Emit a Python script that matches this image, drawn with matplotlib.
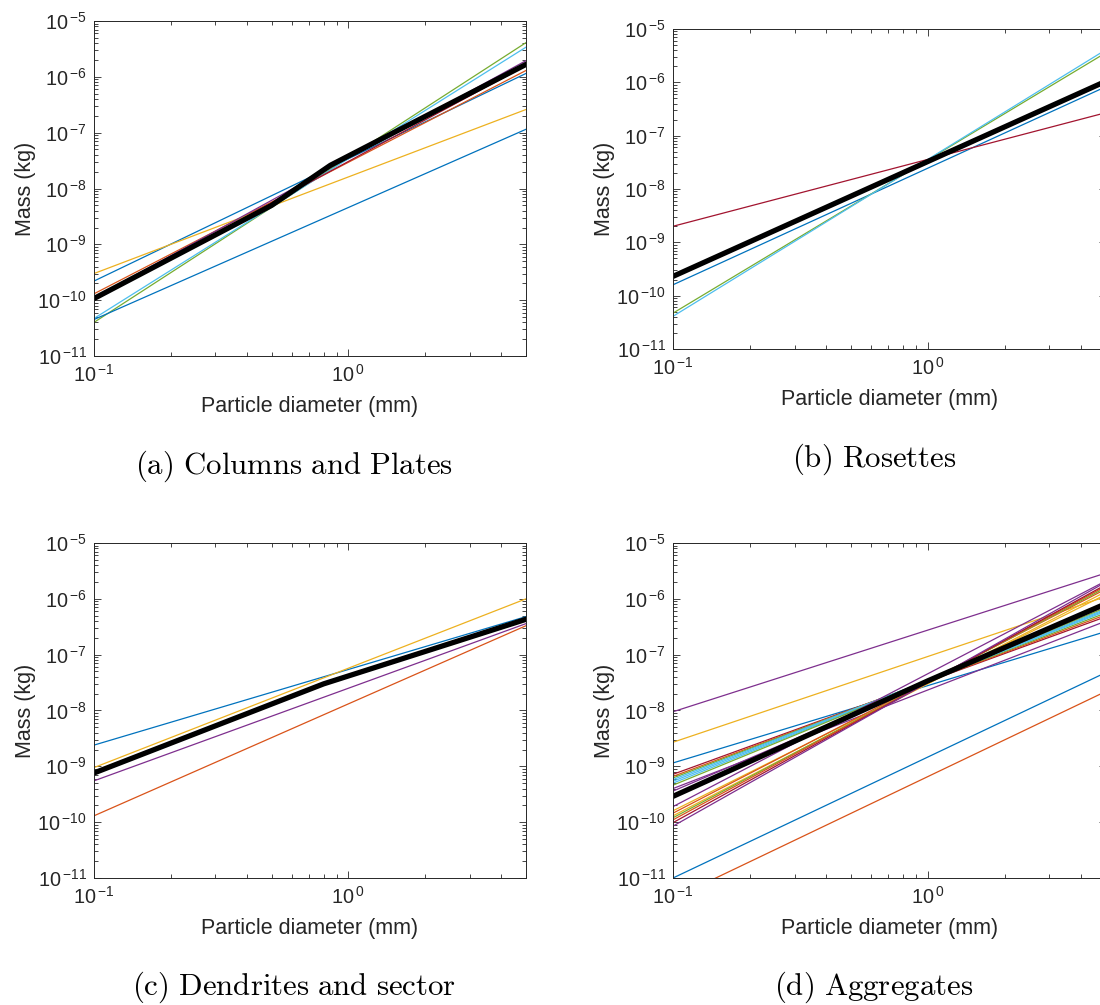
import matplotlib

matplotlib.use("Agg")
import matplotlib.pyplot as plt
from matplotlib.ticker import FixedLocator, FuncFormatter, LogLocator, NullFormatter
import numpy as np

plt.rcParams["font.family"] = ["Liberation Sans", "DejaVu Sans"]

# MATLAB default colour order
BLUE = "#0072BD"
ORANGE = "#D95319"
YELLOW = "#EDB120"
PURPLE = "#7E2F8E"
GREEN = "#77AC30"
CYAN = "#4DBEEE"
DARKRED = "#A2142F"

# every m-D relation is a power law, so two ends are enough
D_ENDS = [0.1, 5.0]  # mm

# (a) columns and plates, mass (kg) at D = 0.1 mm and D = 5 mm
colplate_m_lo = [2.2e-10, 1.3e-10, 3.0e-10, 1.1e-10, 4.0e-11, 4.7e-11, 1.05e-10, 4.5e-11]
colplate_m_hi = [1.15e-6, 1.3e-6, 2.6e-7, 1.95e-6, 4.1e-6, 3.4e-6, 1.6e-6, 1.15e-7]
colplate_colors = [BLUE, ORANGE, YELLOW, PURPLE, GREEN, CYAN, DARKRED, BLUE]
colplate_fit_d = [0.1, 0.5, 0.85, 5.0]
colplate_fit_m = [1.07e-10, 5.0e-9, 2.6e-8, 1.67e-6]

# (b) rosettes
rosette_m_lo = [1.6e-10, 4.7e-11, 4.1e-11, 2.0e-9]
rosette_m_hi = [8.3e-7, 3.6e-6, 4.1e-6, 2.7e-7]
rosette_colors = [BLUE, GREEN, CYAN, DARKRED]
rosette_fit_d = [0.1, 5.0]
rosette_fit_m = [2.3e-10, 1.05e-6]

# (c) dendrites and sector plates
dendrite_m_lo = [2.4e-9, 1.3e-10, 9.5e-10, 5.5e-10]
dendrite_m_hi = [4.8e-7, 3.3e-7, 1.0e-6, 3.6e-7]
dendrite_colors = [BLUE, ORANGE, YELLOW, PURPLE]
dendrite_fit_d = [0.1, 0.8, 5.0]
dendrite_fit_m = [7.6e-10, 3.0e-8, 4.3e-7]

# (d) aggregates
aggregate_m_lo = [
    9.5e-9, 2.7e-9, 1.15e-9, 1.0e-11, 4.3e-12,
    7.2e-10, 6.6e-10, 6.2e-10, 5.8e-10, 5.4e-10, 5.0e-10, 4.6e-10, 4.0e-10, 3.6e-10,
    1.9e-10, 1.6e-10, 1.45e-10, 1.3e-10, 1.2e-10, 1.1e-10, 9.8e-11, 8.5e-11,
]
aggregate_m_hi = [
    2.9e-6, 1.1e-6, 2.6e-7, 4.8e-8, 2.2e-8,
    4.8e-7, 5.2e-7, 5.6e-7, 6.0e-7, 6.3e-7, 6.6e-7, 7.0e-7, 4.0e-7, 7.5e-7,
    2.1e-6, 1.2e-6, 1.5e-6, 1.35e-6, 1.6e-6, 1.7e-6, 1.8e-6, 2.0e-6,
]
aggregate_colors = [
    PURPLE, YELLOW, BLUE, BLUE, ORANGE,
    DARKRED, ORANGE, GREEN, CYAN, CYAN, CYAN, GREEN, PURPLE, PURPLE,
    PURPLE, YELLOW, ORANGE, YELLOW, GREEN, ORANGE, DARKRED, PURPLE,
]
aggregate_fit_d = [0.1, 1.0, 5.0]
aggregate_fit_m = [2.9e-10, 3.4e-8, 8.2e-7]

FIG_W, FIG_H = 1100, 1005
INK = "#262626"


def _rect(left, top, right, bottom):
    # pixel box -> figure fraction
    return [left / FIG_W, 1 - bottom / FIG_H, (right - left) / FIG_W, (bottom - top) / FIG_H]


def _pow10(v, pos=None):
    e = int(round(np.log10(v)))
    return r"$\mathdefault{10}^{\,\mathdefault{%d}}$" % e


def _style_axes(ax):
    ax.set_xscale("log")
    ax.set_yscale("log")
    ax.set_xlim(0.1, 5.0)
    ax.set_ylim(1e-11, 1e-5)
    ax.xaxis.set_major_locator(FixedLocator([0.1, 1.0]))
    ax.xaxis.set_minor_locator(LogLocator(base=10, subs=range(2, 10), numticks=20))
    ax.xaxis.set_major_formatter(FuncFormatter(_pow10))
    ax.xaxis.set_minor_formatter(NullFormatter())
    ax.yaxis.set_major_locator(LogLocator(base=10, numticks=20))
    ax.yaxis.set_major_formatter(FuncFormatter(_pow10))
    ax.yaxis.set_minor_locator(LogLocator(base=10, subs=range(2, 10), numticks=100))
    ax.yaxis.set_minor_formatter(NullFormatter())
    ax.tick_params(which="both", direction="in", top=True, right=True,
                   width=0.6, colors=INK, labelsize=14.3)
    ax.tick_params(which="major", length=5)
    ax.tick_params(axis="x", which="major", pad=6)
    ax.tick_params(axis="y", which="major", pad=5)
    ax.tick_params(which="minor", length=2.8)
    for sp in ax.spines.values():
        sp.set_linewidth(0.7)
        sp.set_color(INK)
    ax.set_xlabel("Particle diameter (mm)", fontsize=15.5, color=INK, labelpad=7)
    ax.set_ylabel("Mass (kg)", fontsize=15.5, color=INK, labelpad=1)


def _panel(fig, rect, m_lo, m_hi, colors, fit_d, fit_m, caption, cap_xy):
    ax = fig.add_axes(_rect(*rect))
    for lo, hi, c in zip(m_lo, m_hi, colors):
        ax.plot(D_ENDS, [lo, hi], color=c, linewidth=0.9)
    ax.plot(fit_d, fit_m, color="black", linewidth=3.8)
    _style_axes(ax)
    fig.text(cap_xy[0] / FIG_W, 1 - cap_xy[1] / FIG_H, caption, ha="center", va="center",
             fontsize=22.2, math_fontfamily="cm")
    return ax


def main():
    fig = plt.figure(figsize=(FIG_W / 100, FIG_H / 100), dpi=100)

    _panel(fig, (94, 21, 526, 356), colplate_m_lo, colplate_m_hi, colplate_colors,
           colplate_fit_d, colplate_fit_m, r"$\mathrm{(a)\ Columns\ and\ Plates}$", (294, 466))
    _panel(fig, (673, 29, 1106, 349), rosette_m_lo, rosette_m_hi, rosette_colors,
           rosette_fit_d, rosette_fit_m, r"$\mathrm{(b)\ Rosettes}$", (874, 459))
    _panel(fig, (94, 543, 526, 878), dendrite_m_lo, dendrite_m_hi, dendrite_colors,
           dendrite_fit_d, dendrite_fit_m, r"$\mathrm{(c)\ Dendrites\ and\ sector}$", (294, 987))
    _panel(fig, (673, 543, 1106, 878), aggregate_m_lo, aggregate_m_hi, aggregate_colors,
           aggregate_fit_d, aggregate_fit_m, r"$\mathrm{(d)\ Aggregates}$", (874, 987))

    fig.savefig("out.png", dpi=100)
    plt.close(fig)


if __name__ == "__main__":
    main()
